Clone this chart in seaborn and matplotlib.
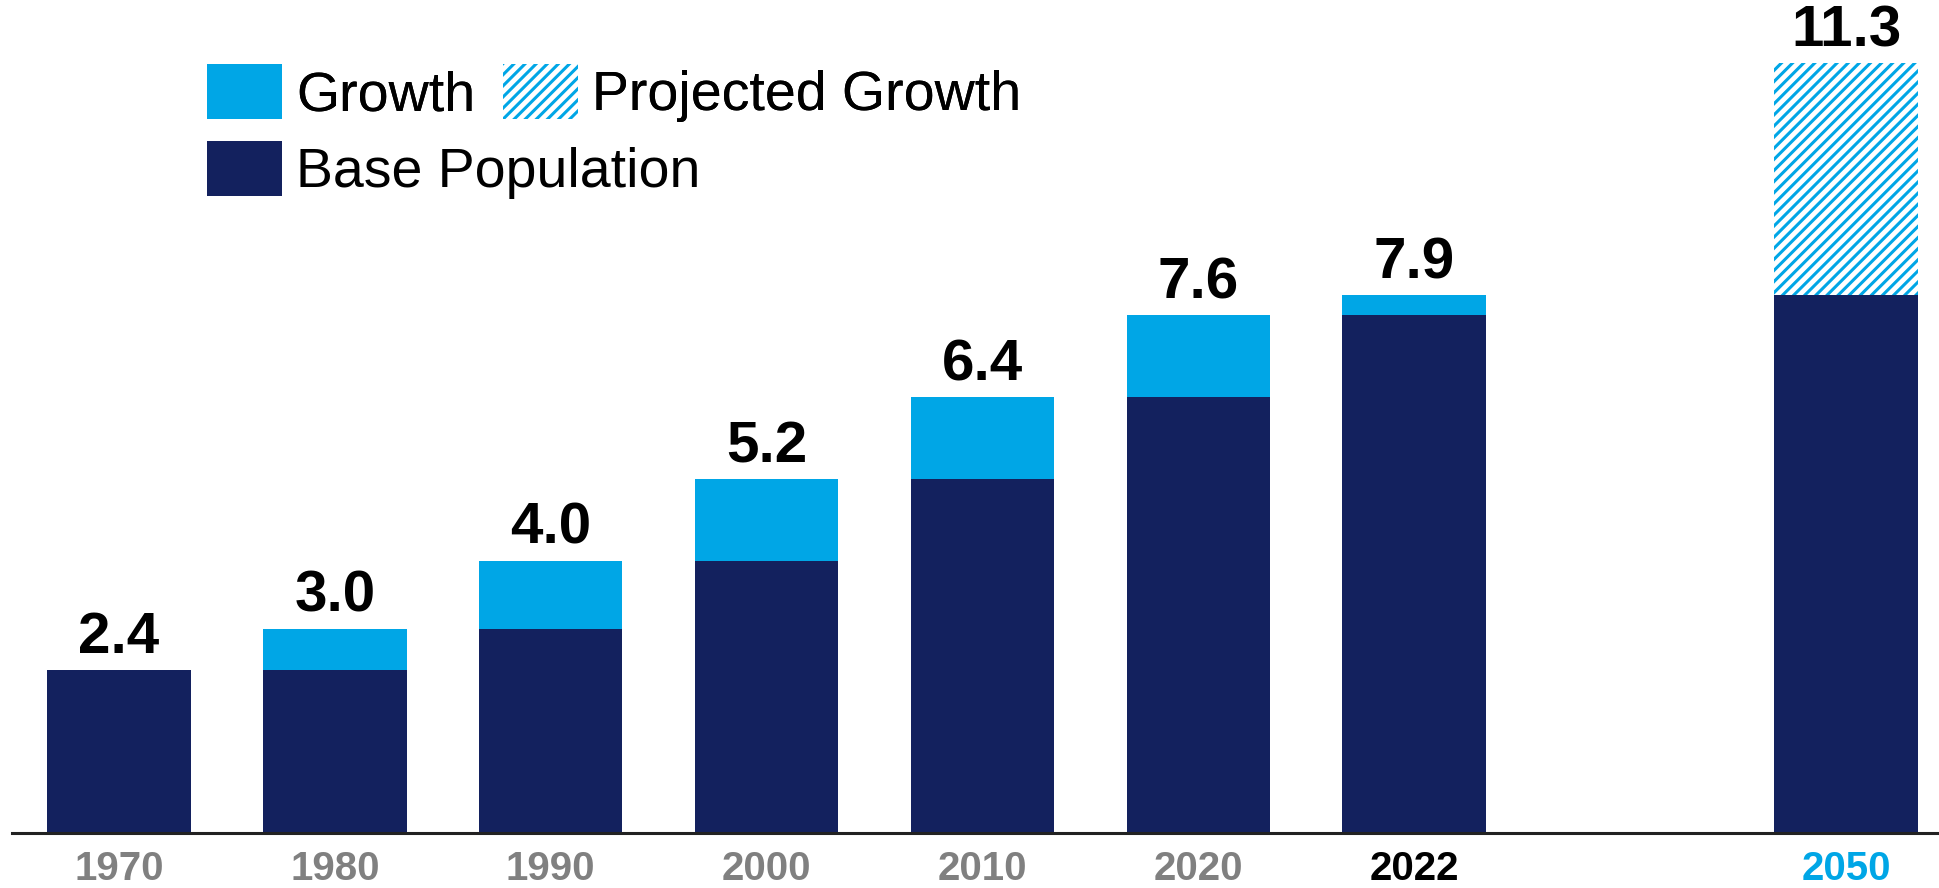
import numpy as np
import pandas as pd
import matplotlib
matplotlib.use("Agg")
import matplotlib.pyplot as plt
from matplotlib.patches import Patch
import seaborn as sns

# World population (billions): base carried over from the previous period plus growth
years = ["1970", "1980", "1990", "2000", "2010", "2020", "2022", "2050"]
base_pop = [2.4, 2.4, 3.0, 4.0, 5.2, 6.4, 7.6, 7.9]
growth = [0.0, 0.6, 1.0, 1.2, 1.2, 1.2, 0.3, 3.4]
projected = [False, False, False, False, False, False, False, True]

NAVY = "#13215E"
BLUE = "#00A6E6"
GREY = "#808080"

sns.set_theme(style="white")
plt.rcParams["font.family"] = ["Liberation Sans", "DejaVu Sans"]
plt.rcParams["hatch.linewidth"] = 2.2

df = pd.DataFrame({"year": years, "base": base_pop, "growth": growth, "projected": projected})
df["total"] = df["base"] + df["growth"]
# leave an empty slot before the projection
df["slot"] = np.arange(len(df)) + df["projected"].astype(int)

fig = plt.figure(figsize=(19.4, 8.88), dpi=100)
ax = fig.add_axes([12 / 1940, 55 / 888, 1 - 12 / 1940, 833 / 888])

bar_w = 0.665
# totals first (growth colour), then the base population drawn over them
sns.barplot(data=df, x="slot", y="total", native_scale=True, width=bar_w,
            color=BLUE, saturation=1, linewidth=0, ax=ax)
n_tot = len(ax.patches)
sns.barplot(data=df, x="slot", y="base", native_scale=True, width=bar_w,
            color=NAVY, saturation=1, linewidth=0, ax=ax)

# projected growth is hatched
for patch, is_proj in zip(ax.patches[:n_tot], df["projected"]):
    if is_proj:
        patch.set_facecolor("white")
        patch.set_edgecolor(BLUE)
        patch.set_hatch("///")
        patch.set_linewidth(0)

for x, tot in zip(df["slot"], df["total"]):
    ax.annotate(f"{tot:.1f}", (x, tot), xytext=(0, 12), textcoords="offset points",
                ha="center", va="baseline", fontsize=42, fontweight="bold", color="black")

ax.set_xlim(-0.495, 8.435)
ax.set_ylim(0, 12.23)
ax.set_xticks(df["slot"])
ax.set_xticklabels(df["year"], fontsize=29, fontweight="bold")
tick_colors = [GREY] * 6 + ["black", BLUE]
for lab, c in zip(ax.get_xticklabels(), tick_colors):
    lab.set_color(c)
ax.tick_params(axis="x", length=0, pad=12)
ax.set_yticks([])
ax.set_xlabel("")
ax.set_ylabel("")
for s in ["top", "right", "left"]:
    ax.spines[s].set_visible(False)
ax.spines["bottom"].set_color("#222222")
ax.spines["bottom"].set_linewidth(2.2)

legend_kw = dict(loc="upper left", bbox_transform=fig.transFigure, frameon=False,
                 fontsize=40, labelcolor="black", handlelength=1.35, handleheight=1.15,
                 handletextpad=0.25, columnspacing=0.5, borderpad=0, borderaxespad=0)
top_row = [
    Patch(facecolor=BLUE, edgecolor="none", label="Growth"),
    Patch(facecolor="white", edgecolor=BLUE, hatch="///", linewidth=0, label="Projected Growth"),
]
bottom_row = [Patch(facecolor=NAVY, edgecolor="none", label="Base Population")]
leg1 = fig.legend(handles=top_row, ncol=2, bbox_to_anchor=(207 / 1940, 1 - 64 / 888), **legend_kw)
fig.legend(handles=bottom_row, ncol=1, bbox_to_anchor=(207 / 1940, 1 - 141 / 888), **legend_kw)
fig.add_artist(leg1)

fig.savefig("out.png", dpi=100)
